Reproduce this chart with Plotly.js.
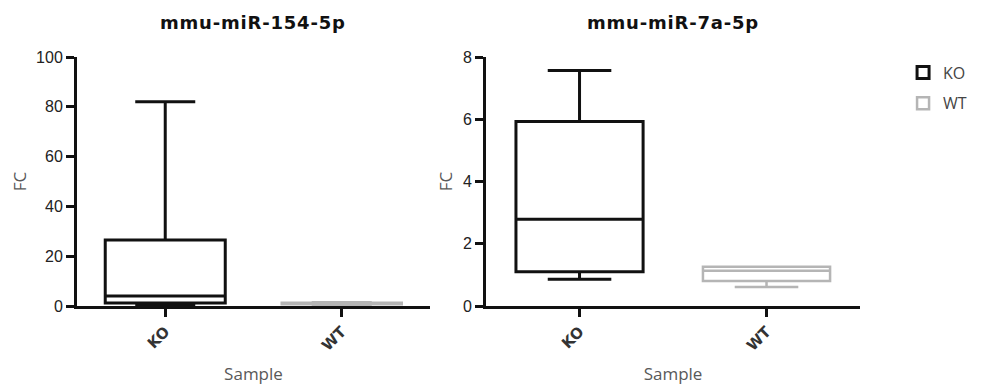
<!DOCTYPE html>
<html>
<head>
<meta charset="utf-8">
<script src="https://cdn.plot.ly/plotly-3.0.1.min.js"></script>
<style>
html,body{margin:0;padding:0;background:#fff;}
#chart{width:992px;height:385px;}
.annotation-text{letter-spacing:0.8px;}
</style>
</head>
<body>
<div id="chart"></div>
<script>
// ---- data ----
const categories = ["KO", "WT"];
const panelTitles = ["mmu-miR-154-5p", "mmu-miR-7a-5p"];

// miR-154-5p
const mir154_KO = {lower: 0.3, q1: 1.2, median: 4.0, q3: 26.5, upper: 82};
const mir154_WT = {lower: 0.5, q1: 0.7, median: 1.0, q3: 1.3, upper: 1.5};

// miR-7a-5p
const mir7a_KO = {lower: 0.86, q1: 1.10, median: 2.79, q3: 5.93, upper: 7.57};
const mir7a_WT = {lower: 0.61, q1: 0.80, median: 1.13, q3: 1.26, upper: 1.26};

const yRanges = [[0, 100], [0, 8]];
const yTicks = [[0, 20, 40, 60, 80, 100], [0, 2, 4, 6, 8]];

const koColor = "#111111";
const wtColor = "#b5b5b5";

function boxTrace(cat, s, color, xa, ya, show, lw) {
  return {
    type: "box",
    name: cat,
    legendgroup: cat,
    showlegend: show,
    x: [cat],
    q1: [s.q1], median: [s.median], q3: [s.q3],
    lowerfence: [s.lower], upperfence: [s.upper],
    boxpoints: false,
    width: 0.68,
    whiskerwidth: 0.5,
    fillcolor: "rgba(255,255,255,0)",
    line: {color: color, width: lw},
    xaxis: xa, yaxis: ya,
    hoverinfo: "skip"
  };
}

const data = [
  boxTrace("KO", mir154_KO, koColor, "x", "y", true, 3),
  boxTrace("WT", mir154_WT, wtColor, "x", "y", true, 2.5),
  boxTrace("KO", mir7a_KO, koColor, "x2", "y2", false, 3),
  boxTrace("WT", mir7a_WT, wtColor, "x2", "y2", false, 2.5)
];

const tickFont = {family: "Liberation Sans, Arial, sans-serif", size: 16, color: "#222"};
const titleFont = {family: "Open Sans, sans-serif", size: 17, color: "#595959"};

function xaxis(domain, anchor) {
  return {
    domain: domain, anchor: anchor,
    type: "category", categoryarray: categories, categoryorder: "array",
    range: [-0.5, 1.5],
    showline: true, linecolor: "#111", linewidth: 3,
    ticks: "outside", ticklen: 8, tickwidth: 3, tickcolor: "#111",
    tickangle: -45,
    tickfont: {family: "DejaVu Sans, sans-serif", size: 15, color: "#333", weight: "bold"},
    showgrid: false, zeroline: false,
    title: {text: "Sample", font: titleFont, standoff: 18}
  };
}
function yaxis(domain, anchor, range, ticks) {
  return {
    domain: domain, anchor: anchor,
    range: range, tickvals: ticks,
    showline: true, linecolor: "#111", linewidth: 3,
    ticks: "outside", ticklen: 8, tickwidth: 3, tickcolor: "#111",
    tickfont: tickFont,
    showgrid: false, zeroline: false,
    title: {text: "FC", font: titleFont, standoff: 6}
  };
}

const layout = {
  width: 992, height: 385,
  margin: {l: 77, r: 132, t: 57, b: 79},
  paper_bgcolor: "#fff", plot_bgcolor: "#fff",
  boxmode: "overlay",
  showlegend: true,
  legend: {
    x: 1.055, y: 1.006, xanchor: "left", yanchor: "top",
    font: {family: "Open Sans, sans-serif", size: 16, color: "#444"},
    tracegroupgap: 7
  },
  xaxis: xaxis([0, 0.4508], "y"),
  yaxis: yaxis([0, 1], "x", yRanges[0], yTicks[0]),
  xaxis2: xaxis([0.5224, 1], "y2"),
  yaxis2: yaxis([0, 1], "x2", yRanges[1], yTicks[1]),
  annotations: [
    {text: panelTitles[0], xref: "paper", yref: "paper", x: 0.2254, y: 1.14,
     xanchor: "center", yanchor: "middle", showarrow: false,
     font: {family: "DejaVu Sans, sans-serif", size: 18, color: "#111", weight: "bold"}},
    {text: panelTitles[1], xref: "paper", yref: "paper", x: 0.7612, y: 1.14,
     xanchor: "center", yanchor: "middle", showarrow: false,
     font: {family: "DejaVu Sans, sans-serif", size: 18, color: "#111", weight: "bold"}}
  ]
};

Plotly.newPlot("chart", data, layout, {staticPlot: true, displayModeBar: false});
</script>
</body>
</html>
